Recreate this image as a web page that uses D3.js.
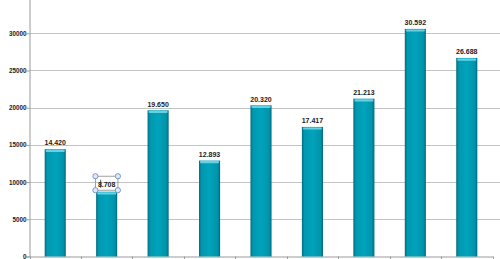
<!DOCTYPE html>
<html>
<head>
<meta charset="utf-8">
<script src="https://cdn.jsdelivr.net/npm/d3@7/dist/d3.min.js"></script>
<style>
  body { margin: 0; background: #fff; }
  svg { display: block; }
</style>
</head>
<body>
<svg id="chart" width="500" height="259"></svg>
<script>
// data
var categories = ["c1", "c2", "c3", "c4", "c5", "c6", "c7", "c8", "c9"];
var values = [14420, 8708, 19650, 12893, 20320, 17417, 21213, 30592, 26688];
var yTicks = [0, 5000, 10000, 15000, 20000, 25000, 30000, 35000];
var selectedIndex = 1; // the label with the edit box round it

var svg = d3.select("#chart");
var width = 500, height = 259;
var left = 29.5, right = 492.5, zeroY = 256.5;

var x = d3.scaleBand().domain(categories).range([left, right]).paddingInner(0.59).paddingOuter(0.295);
var band = d3.scaleBand().domain(categories).range([left, right]);
var y = d3.scaleLinear().domain([0, 35000]).range([zeroY, zeroY - 7 * 37.2]);

var fmt = function(v) { return d3.format(",")(v).replace(/,/g, "."); };

var defs = svg.append("defs");
var grad = defs.append("linearGradient").attr("id", "barGrad")
  .attr("x1", "0%").attr("x2", "100%").attr("y1", "0%").attr("y2", "0%");
grad.append("stop").attr("offset", "0%").attr("stop-color", "#006e80");
grad.append("stop").attr("offset", "12%").attr("stop-color", "#0098b0");
grad.append("stop").attr("offset", "50%").attr("stop-color", "#00a3bb");
grad.append("stop").attr("offset", "88%").attr("stop-color", "#0094ac");
grad.append("stop").attr("offset", "100%").attr("stop-color", "#006a7b");

// gridlines
svg.append("g").selectAll("line")
  .data(yTicks.filter(function(d) { return d > 0; }))
  .enter().append("line")
    .attr("x1", left).attr("x2", width)
    .attr("y1", function(d) { return Math.round(y(d)) + 0.5; })
    .attr("y2", function(d) { return Math.round(y(d)) + 0.5; })
    .style("stroke", "#c4c4c4");

// y axis
var yAxis = svg.append("g").attr("transform", "translate(" + left + ",0)")
  .call(d3.axisLeft(y).tickValues(yTicks).tickSize(3).tickFormat(d3.format("d")));
yAxis.select(".domain").style("stroke", "#9a9a9a");
yAxis.selectAll(".tick line").style("stroke", "#9a9a9a");
yAxis.selectAll("text")
  .attr("x", -3)
  .style("font-family", "Liberation Sans, Arial, sans-serif")
  .style("font-size", "6.3px").style("font-weight", "bold").style("fill", "#222");

// x axis
var xAxis = svg.append("g").attr("transform", "translate(0," + zeroY + ")")
  .call(d3.axisBottom(band).tickSize(0).tickFormat(""));
xAxis.select(".domain").style("stroke", "#9a9a9a");
xAxis.selectAll(".tick").remove();
xAxis.selectAll(".bt")
  .data(categories.concat(["end"]))
  .enter().append("line")
    .attr("x1", function(d, i) { return Math.round(left + i * band.step()) + 0.5; })
    .attr("x2", function(d, i) { return Math.round(left + i * band.step()) + 0.5; })
    .attr("y1", 0).attr("y2", 4)
    .style("stroke", "#9a9a9a");

// bars
var bars = svg.append("g").selectAll("g")
  .data(values).enter().append("g");

bars.append("rect")
  .attr("x", function(d, i) { return x(categories[i]); })
  .attr("y", function(d) { return y(d); })
  .attr("width", x.bandwidth())
  .attr("height", function(d) { return zeroY - y(d); })
  .style("fill", "url(#barGrad)");

bars.append("rect")
  .attr("x", function(d, i) { return x(categories[i]) + 1; })
  .attr("y", function(d) { return y(d) + 0.5; })
  .attr("width", x.bandwidth() - 2)
  .attr("height", 2.2)
  .attr("rx", 1)
  .style("fill", "#62d2e4");

bars.append("text")
  .attr("x", function(d, i) { return x(categories[i]) + x.bandwidth() / 2; })
  .attr("y", function(d, i) { return y(d) - (i === selectedIndex ? 5.2 : 3.8); })
  .attr("text-anchor", "middle")
  .style("font-family", "Liberation Sans, Arial, sans-serif")
  .style("font-size", "7px").style("font-weight", "bold").style("fill", "#222")
  .text(function(d) { return fmt(d); });

// edit box round the selected label
var sx = x(categories[selectedIndex]) + x.bandwidth() / 2;
var sy = y(values[selectedIndex]) - 8.5;
var bw = 22.5, bh = 14;
var sel = svg.append("g");
sel.append("rect")
  .attr("x", sx - bw / 2).attr("y", sy - bh / 2)
  .attr("width", bw).attr("height", bh)
  .style("fill", "none").style("stroke", "#8a8a8a").style("stroke-width", 0.8);
sel.append("line")
  .attr("x1", sx - 6).attr("x2", sx - 6)
  .attr("y1", sy - 3.5).attr("y2", sy + 4.5)
  .style("stroke", "#222").style("stroke-width", 0.8);
sel.selectAll("circle")
  .data([[-1, -1], [1, -1], [-1, 1], [1, 1]])
  .enter().append("circle")
    .attr("cx", function(d) { return sx + d[0] * bw / 2; })
    .attr("cy", function(d) { return sy + d[1] * bh / 2; })
    .attr("r", 2.6)
    .style("fill", "#dfeaf6").style("stroke", "#5b86c2").style("stroke-width", 0.8);
</script>
</body>
</html>
